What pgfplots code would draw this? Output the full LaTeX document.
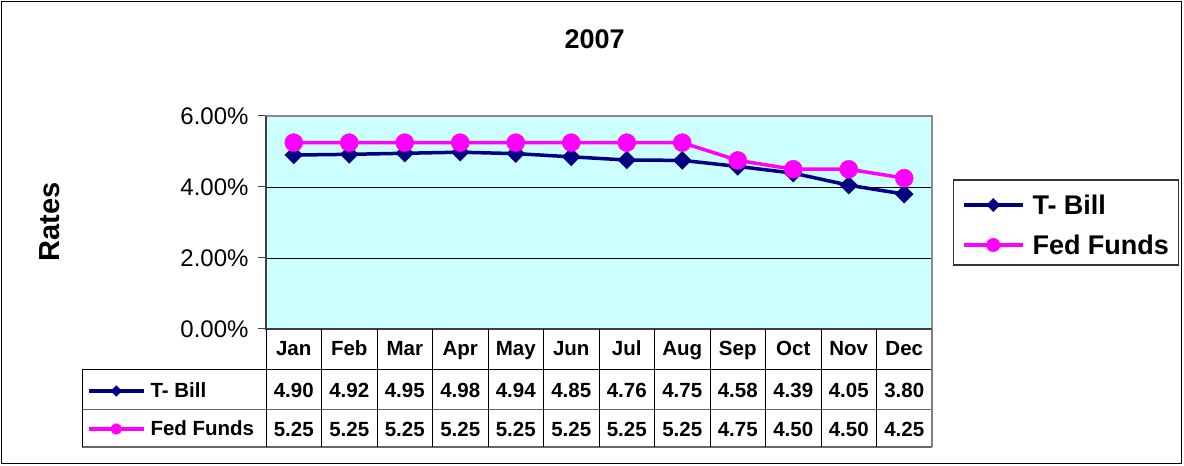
\documentclass[border=0pt]{standalone}
\usepackage{fontspec}
\setmainfont{Liberation Sans}
\usepackage{pgfplots}
\usepackage{pgfplotstable}
\pgfplotsset{compat=1.18}

\definecolor{tbillc}{RGB}{0,0,128}
\definecolor{fedc}{RGB}{255,0,255}
\definecolor{plotbg}{RGB}{204,255,255}

\pgfplotstableread{
x month tbill fed
1 Jan 4.90 5.25
2 Feb 4.92 5.25
3 Mar 4.95 5.25
4 Apr 4.98 5.25
5 May 4.94 5.25
6 Jun 4.85 5.25
7 Jul 4.76 5.25
8 Aug 4.75 5.25
9 Sep 4.58 4.75
10 Oct 4.39 4.50
11 Nov 4.05 4.50
12 Dec 3.80 4.25
}\ratedata

\pgfplotsset{
  tbillstyle/.style={tbillc, line width=3.5pt, mark=square*, mark size=6.3pt,
    mark options={rotate=45, line width=0.4pt, fill=tbillc, solid}},
  fedstyle/.style={fedc, line width=3.5pt, mark=*, mark size=9pt,
    mark options={line width=0.4pt, fill=fedc, solid}},
}

% one-entry legend placed with its line starting at (#1,#2)
\newcommand{\keyentry}[8]{%
\begin{axis}[hide axis, scale only axis, width=10pt, height=10pt,
  at={(#1pt,#2pt)}, anchor=south west, xmin=0, xmax=1, ymin=0, ymax=1,
  legend style={at={(0,0)}, anchor=west, draw=none, fill=none, inner sep=0pt, outer sep=0pt,
    nodes={inner sep=0pt, outer sep=0pt}, column sep=#8pt,
    font=\bfseries\fontsize{#6}{#6}\selectfont},
  legend cell align=left,
  legend image code/.code={\draw[mark repeat=2, mark phase=2, ##1, every mark/.append style={scale=#7}] plot coordinates {(0pt,0pt) ({#5pt/2},0pt) (#5pt,0pt)};}]
\addlegendimage{#3}
\addlegendentry{#4}
\end{axis}}

\begin{document}
\begin{tikzpicture}[x=1pt,y=1pt]
\useasboundingbox (0,0) rectangle (1184,466);
\draw[black, line width=1.2pt] (1.5,2.5) rectangle (1181.5,464.5);

% title and axis label
\node[anchor=base, font=\bfseries\fontsize{27}{27}\selectfont] at (594.7,417.6) {2007};
\node[rotate=90, anchor=center, font=\bfseries\fontsize{29}{29}\selectfont] at (50,244) {Rates};

\begin{axis}[scale only axis, width=666pt, height=213pt,
  at={(266pt,137pt)}, anchor=south west,
  xmin=0.5, xmax=12.5, ymin=0, ymax=6,
  xtick=\empty, ytick={0,2,4,6},
  yticklabels={0.00\%,2.00\%,4.00\%,6.00\%},
  ymajorgrids, grid style={black, line width=0.9pt},
  axis background/.style={fill=plotbg},
  axis line style={black!45, line width=1.2pt},
  tick style={black!75, line width=1pt},
  tick align=outside, major tick length=8pt, ytick pos=left,
  yticklabel style={font=\fontsize{24}{24}\selectfont, xshift=-6pt},
  clip=false]
\addplot[tbillstyle] table[x=x, y=tbill] {\ratedata};
\addplot[fedstyle] table[x=x, y=fed] {\ratedata};
\end{axis}
\draw[black!75, line width=1.2pt] (266,350) -- (266,137) -- (932,137);

% data table
\draw[black, line width=1pt] (82,96) -- (932,96);
\draw[black!60, line width=1pt] (82,56) -- (932,56);
\draw[black!60, line width=1.2pt] (82,19) -- (932,19);
\draw[black, line width=1pt] (82,96) -- (82,19);
\foreach \k in {0,...,11} {
  \draw[black, line width=1pt] ({266+55.5*\k},137) -- ({266+55.5*\k},19);
}
\draw[black!50, line width=1.2pt] (932,137) -- (932,19);
\foreach \i in {0,...,11} {
  \pgfplotstablegetelem{\i}{month}\of\ratedata
  \let\mon\pgfplotsretval
  \node[anchor=base, font=\bfseries\fontsize{20.5}{20.5}\selectfont] at ({266+55.5*(\i+0.5)},110.7) {\mon};
  \pgfplotstablegetelem{\i}{tbill}\of\ratedata
  \let\tb\pgfplotsretval
  \node[anchor=base, font=\bfseries\fontsize{20.5}{20.5}\selectfont] at ({266+55.5*(\i+0.5)},68.4) {\tb};
  \pgfplotstablegetelem{\i}{fed}\of\ratedata
  \let\ff\pgfplotsretval
  \node[anchor=base, font=\bfseries\fontsize{20.5}{20.5}\selectfont] at ({266+55.5*(\i+0.5)},29.7) {\ff};
}
\keyentry{87}{75}{tbillstyle}{T- Bill}{55}{20.5}{0.6}{5}
\keyentry{87}{37}{fedstyle}{Fed Funds}{55}{20.5}{0.6}{5}

% main legend
\draw[black!80, line width=1.2pt, fill=white] (953.7,201) rectangle (1178.3,286);
\keyentry{962}{261}{tbillstyle}{T- Bill}{59}{27}{0.75}{8}
\keyentry{962}{221}{fedstyle}{Fed Funds}{59}{27}{0.75}{8}
\end{tikzpicture}
\end{document}
